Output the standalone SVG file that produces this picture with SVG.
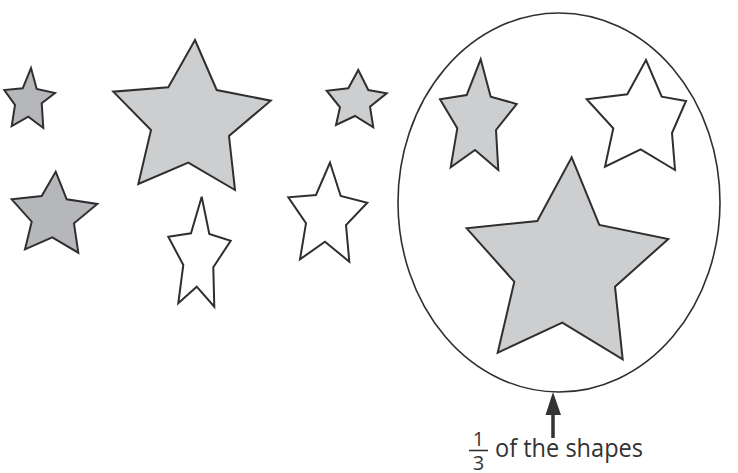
<svg xmlns="http://www.w3.org/2000/svg" width="738" height="473" viewBox="0 0 738 473">
<style>
.s{stroke:#2f2f2f;stroke-width:2;stroke-linejoin:miter}
.d{fill:#b6b7ba}
.l{fill:#cdced0}
.w{fill:#ffffff}
.t{font-family:"Open Sans","Liberation Sans",sans-serif;fill:#333}
</style>
<defs>
<marker id="ah" markerWidth="6" markerHeight="6" refX="5" refY="3" orient="auto" markerUnits="strokeWidth">
<path d="M0,0 L6,3 L0,6 Z" fill="#333"/>
</marker>
</defs>
<rect width="738" height="473" fill="#fff"/>
<g id="circle"><ellipse cx="559" cy="202.5" rx="161" ry="189.5" fill="none" stroke="#2f2f2f" stroke-width="1.6"/></g>
<g id="star1"><polygon class="s d" points="31,68 36.7,89 55,93 41.7,103.3 43.3,128 28.3,116.7 11.7,126 15,105 4.3,90 22.7,88.3"/></g>
<g id="star2"><polygon class="s d" points="55.7,171.7 66.7,199.3 97.3,204 74,223.3 78.3,252.7 52.3,237.3 25,249.3 31.7,221.7 11.7,199.3 41.7,196"/></g>
<g id="star3"><polygon class="s l" points="195,40 216.7,90 270.7,100.7 229,136 235,190 188.3,162.7 138.3,184 151,130 113.3,91.7 168.3,87.3"/></g>
<g id="star4"><polygon class="s w" points="201.7,196.7 209.3,234 230.7,240.7 213.3,267.3 214.3,306.7 196.7,286.7 178.3,303.3 183.3,265 168.3,236.7 191,233.3"/></g>
<g id="star5"><polygon class="s l" points="358.3,70 368.3,90 386.7,93.3 370,106.7 373.3,127.3 355,116 336,125 340,107.3 326.7,90.7 348.3,88.3"/></g>
<g id="star6"><polygon class="s w" points="330,162.7 340.7,196 367.3,202.7 346,225 349.3,261.7 325,241.7 300,259.3 306,223.3 288.3,197.3 316,195"/></g>
<g id="star7"><polygon class="s l" points="480.7,59.3 490.7,96.7 516.7,104 496,130 498.3,170 475,150 450.7,167.3 457.3,128.3 440,99.3 466.7,95"/></g>
<g id="star8"><polygon class="s w" points="646,60 661.7,96.7 686,101 672,133 675,170 640.7,149.3 605,166.7 613.3,128.3 586.7,99.3 627.3,94.3"/></g>
<g id="star9"><polygon class="s l" points="571.7,157.3 599.3,225 668.3,239 615,286.7 622.7,359.3 562.3,322.7 497.7,352.7 514.3,281.7 466.7,228.3 537.3,221"/></g>
<g id="connectors">
<line x1="553" y1="438" x2="553" y2="412" stroke="#333" stroke-width="3.5"/>
<polygon points="553,392 545.5,415 561,415" fill="#333"/>
</g>
<g id="label">
<text class="t" x="478.5" y="446" font-size="20" text-anchor="middle">1</text>
<line x1="469" y1="450.5" x2="488" y2="450.5" stroke="#333" stroke-width="1.6"/>
<text class="t" x="478.5" y="470" font-size="20" text-anchor="middle">3</text>
<text class="t" x="495" y="457" font-size="25" textLength="148" lengthAdjust="spacingAndGlyphs">of the shapes</text>
</g>
</svg>
